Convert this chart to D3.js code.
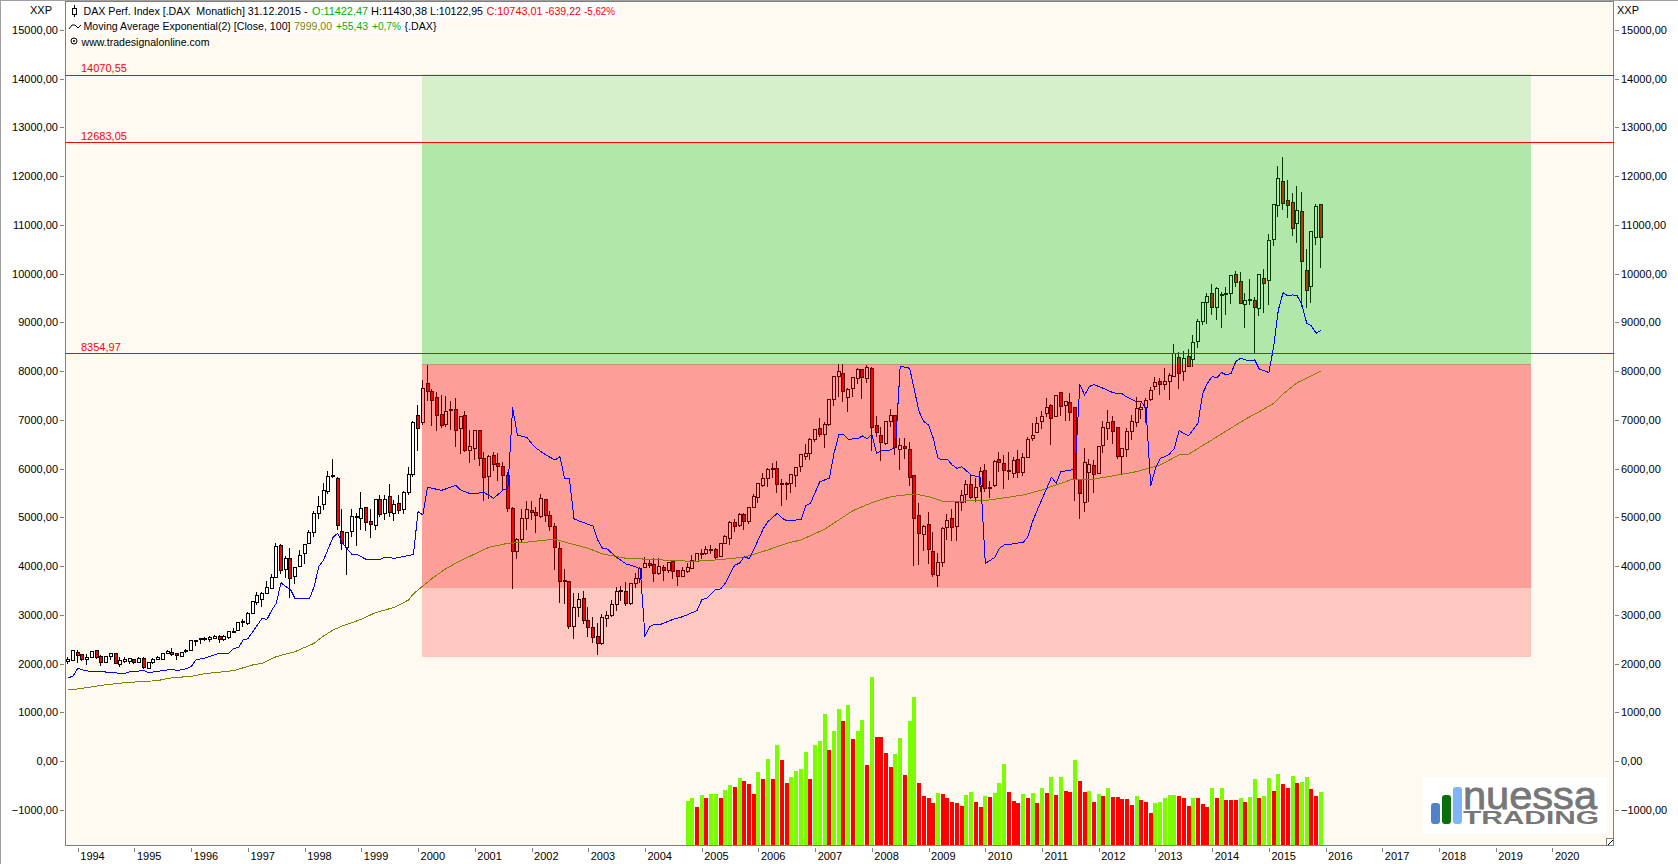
<!DOCTYPE html>
<html>
<head>
<meta charset="utf-8">
<title>DAX Perf. Index</title>
<script src="https://cdn.jsdelivr.net/npm/d3@7"></script>
<style>
html, body { margin: 0; padding: 0; background: #fff; }
svg { display: block; }
text { font-family: "Liberation Sans", Arial, sans-serif; font-size: 11px; fill: #000; }
</style>
</head>
<body>
<script>
// Monthly candles, Nov 1993 to Dec 2015
const candleOpen = [
2040,2060,2230,2182,2073,2121,2258,2134,2018,2141,
2203,1970,2039,2032,2073,2018,2107,1902,2018,2087,
2087,2210,2230,2203,2141,2244,2264,2470,2483,2504,
2483,2517,2558,2483,2538,2640,2675,2846,2812,3030,
3256,3318,3441,3543,3769,4426,3933,4152,3783,3995,
4262,4460,4692,5082,5267,5527,5849,5801,4713,4378,
4706,5000,4973,5206,4918,4836,5370,5076,5431,5076,
5288,5158,5506,5876,7093,6943,7736,7586,7463,7114,
6902,7216,7210,6827,7093,6368,6416,6786,6211,5835,
6273,6108,6047,5855,5185,4296,4549,4980,5144,5103,
5021,5370,5041,4809,4364,3680,3687,2757,3153,3338,
2887,2743,2558,2401,2921,2976,3208,3482,3482,3236,
3632,3749,3967,4056,4022,3844,3974,3906,4084,3899,
3783,3885,3947,4098,4241,4248,4330,4344,4193,4453,
4556,4884,4829,5062,4905,5192,5397,5643,5794,5978,
6006,5684,5684,5684,5855,6039,6245,6306,6601,6813,
6696,6895,7408,7893,7955,7462,7640,7845,8023,7845,
8044,6888,6683,6505,6970,7093,6389,6457,6395,5862,
5041,4645,4857,4303,3803,4070,4788,4980,4809,5301,
5465,5677,5404,5623,5965,5595,5643,6190,6108,5965,
5889,6190,5917,6231,6614,6737,6963,7134,7298,7066,
7565,7298,7360,7257,5780,5308,5917,6067,5903,6471,
6820,6970,6847,6245,6395,6765,6950,7216,7257,7415,
7681,7791,7722,7791,7888,8284,7990,8298,8230,8606,
9016,9406,9598,9303,9550,9584,9591,9988,9844,9365,
9460,9454,9290,9905,9864,10706,11403,11896,11506,11465,
11034,11280,10070,9741,10747,11422];
const candleHigh = [
2130,2275,2278,2196,2196,2255,2278,2175,2155,2210,
2210,2141,2128,2107,2087,2141,2141,2015,2107,2155,
2215,2278,2312,2210,2235,2299,2475,2480,2524,2552,
2565,2579,2579,2579,2675,2730,2850,2914,3051,3277,
3461,3468,3687,3838,4467,4453,4207,4364,3980,4330,
4450,4740,5130,5438,5698,5958,6190,5821,5164,4700,
5164,5082,5513,5219,5164,5377,5465,5459,5684,5356,
5459,5547,6040,6984,7305,7818,8126,7627,7572,7511,
7490,7387,7442,7080,7182,6792,6792,6790,6334,6273,
6334,6314,6143,5937,5206,4570,5164,5342,5342,5219,
5479,5383,5123,4877,4501,3933,3690,3454,3441,3482,
3153,2962,2825,3017,3085,3304,3578,3591,3680,3660,
3851,3988,4193,4138,4159,4159,4022,4090,4125,3920,
3988,4056,4227,4275,4344,4412,4426,4364,4480,4638,
4932,4959,5082,5096,5219,5479,5698,5903,6006,6108,
6150,5780,5732,5875,6040,6293,6498,6621,6820,7032,
6950,7421,7900,8146,8146,7647,7873,8064,8051,8126,
8092,7079,6861,6963,7216,7095,6621,6621,6539,5865,
5287,4836,5103,4699,4261,4809,5068,5164,5322,5561,
5766,5882,5814,6040,6088,5746,6177,6334,6272,6334,
6245,6382,6313,6655,6929,7066,7189,7442,7326,7510,
7579,7394,7545,7271,5785,6416,6190,6177,6464,6977,
7203,7079,6861,6420,6826,7100,7462,7353,7442,7681,
7873,7866,8058,7955,8558,8394,8421,8449,8750,9071,
9413,9598,9789,9728,9632,9728,9974,10056,10035,9611,
9892,9516,9988,10090,10815,11420,12210,12388,11923,11650,
11800,11677,10500,10870,11424,11430];
const candleLow = [
1990,2055,2004,2059,1970,2115,2100,1956,2010,2073,
2000,1936,2004,1991,1991,2004,1881,1895,1991,2073,
2080,2196,2155,2073,2135,2210,2260,2360,2394,2470,
2449,2510,2428,2470,2510,2634,2670,2757,2791,3017,
3208,3167,3427,3537,3755,3838,3762,3352,3632,3974,
4043,4453,4590,4959,5151,5479,5801,4740,4330,3817,
4603,4412,4740,4727,4576,4740,5000,4946,5014,4932,
5062,5062,5459,5821,6368,6895,7394,6874,6779,6840,
6847,6792,6450,6293,6341,6108,6177,6054,5342,5370,
5958,5753,5547,5117,3537,4145,4467,4740,4945,4686,
4993,4911,4727,3920,3249,3222,2716,2510,2962,2812,
2552,2428,2182,2388,2757,2962,3085,3290,3181,3201,
3550,3646,3954,3954,3673,3817,3694,3865,3742,3591,
3769,3865,3933,4084,4138,4227,4248,4138,4180,4450,
4433,4706,4809,4740,4863,5185,5288,5616,5616,5800,
5507,5233,5356,5493,5630,5937,6177,6177,6553,6642,
6430,6874,7292,7476,7360,7168,7462,7736,7428,7763,
6368,6642,6163,6491,6847,6279,5971,6204,5643,4008,
4029,4303,4043,3769,3577,3988,4535,4521,4521,5130,
5287,5383,5308,5527,5527,5404,5629,5937,5588,5766,
5800,5800,5848,6218,6566,6724,6813,7066,6478,7052,
7079,6984,6977,5342,4959,5117,5322,5493,5889,6313,
6587,6505,6204,5889,6231,6587,6847,7011,6943,7394,
7613,7510,7613,7408,7880,7641,7799,8079,8093,8476,
8955,8968,9153,9050,8886,9153,9372,9728,9379,8886,
9358,8366,9139,9201,9358,10569,11171,11308,11150,10774,
10624,9324,9303,9392,10589,10123];
const candleClose = [
2090,2270,2162,2073,2128,2251,2121,2018,2148,2203,
2004,2066,2080,2100,2018,2107,1915,2011,2080,2121,
2210,2244,2189,2169,2230,2264,2470,2476,2504,2511,
2538,2558,2497,2545,2661,2661,2846,2866,3030,3263,
3400,3441,3564,3769,4405,3906,4159,3749,3974,4221,
4446,4692,5082,5226,5554,5842,5862,4829,4467,4692,
5021,5007,5185,4898,4850,5356,5055,5370,5096,5267,
5137,5513,5883,6950,6820,7647,7586,7394,7087,6881,
7175,7189,6786,7073,6368,6444,6786,6211,5821,6252,
6081,6040,5855,5185,4296,4549,4980,5164,5103,5034,
5390,5034,4809,4378,3680,3707,2757,3153,3318,2880,
2736,2538,2401,2948,2976,3215,3482,3489,3236,3646,
3749,3954,4056,4002,3844,3981,3906,4070,3885,3783,
3899,3961,4118,4262,4262,4344,4344,4166,4453,4597,
4891,4809,5048,4918,5192,5424,5684,5800,5972,6006,
5671,5677,5691,5869,6020,6279,6313,6607,6792,6696,
6909,7408,7880,7996,7586,7633,7859,8023,7873,8064,
6840,6744,6539,6956,7093,6423,6478,6416,5821,4973,
4672,4802,4343,3824,4077,4775,4939,4788,5301,5451,
5677,5397,5616,5944,5582,5609,6149,6122,5965,5944,
6156,5917,6231,6601,6683,6915,7073,7257,7032,7504,
7278,7367,7148,5780,5493,6128,6088,5882,6450,6847,
6950,6758,6245,6416,6765,6970,7223,7250,7401,7606,
7770,7722,7791,7914,8353,7956,8264,8093,8592,9023,
9399,9536,9310,9687,9564,9598,9953,9817,9392,9454,
9474,9310,9974,9803,10685,11410,11957,11438,11403,10931,
11301,10254,9659,10856,11383,10743];

// Blue line, read at its corners (bar number, value)
const blueBar = [0,1,2,3,5,7,11,12,13,16,17,19,22,23,25,26,27,29,32,34,35,36,37,38,41,42,43,44,45,46,47,48,51,52,53,54,56,57,58,60,61,63,66,67,69,73,74,75,76,79,82,83,85,88,90,92,93,94,95,97,98,99,101,103,104,105,106,107,109,111,112,113,114,116,118,120,121,122,123,124,125,128,130,133,134,135,137,138,139,141,142,143,144,145,147,148,150,151,152,154,155,156,157,159,161,162,163,164,165,167,168,169,170,171,172,174,175,176,178,179,180,181,182,183,184,185,186,187,188,189,191,193,194,195,196,197,198,199,200,202,203,204,205,207,208,209,210,211,213,214,215,216,217,218,219,221,223,224,226,227,228,229,230,231,232,233,234,235,236,237,239,240,241,242,243,244,245,246,247,248,249,250,251,252,253,254,255,256,257,258,259,260,261,262,263,264,265];
const blueValue = [1710,1738,1902,1868,1833,1833,1799,1799,1833,1854,1813,1840,1881,1854,1895,1936,2073,2114,2210,2210,2312,2326,2483,2510,2928,2900,3085,3236,3660,3578,3523,3324,3324,3578,3988,4125,4590,4672,4467,4241,4241,4138,4138,4180,4159,4234,5117,5048,5616,5554,5657,5561,5486,5506,5390,5561,5595,7257,6683,6642,6519,6416,6280,6177,6245,5800,5800,4966,4891,4822,4535,4364,4350,4180,4043,3988,3940,2565,2757,2805,2791,2907,2962,3085,3304,3338,3523,3530,3646,4022,4056,4193,4152,4330,4761,4911,5082,4980,4932,4945,4945,5240,5287,5732,5800,6313,6690,6703,6601,6614,6669,6614,6710,6313,6361,6382,6450,8105,8058,7613,7168,6963,6895,6621,6211,6177,6190,6074,6006,6040,5869,5821,4056,4111,4179,4364,4432,4432,4467,4480,4603,4911,5150,5595,5821,5698,5937,5951,5985,7729,7510,7681,7729,7681,7647,7558,7531,7463,7374,7374,7237,5643,6006,6211,6245,6300,6416,6779,6724,6676,6930,7546,7751,7888,7867,7970,7922,7956,8195,8264,8230,8209,8230,8038,8011,7970,8503,9256,9611,9543,9563,9543,9358,8982,8927,8777,8838];

// Olive line: Moving Average Exponential, read at its corners
const emaBar = [0,3,7,12,19,21,26,29,35,39,41,44,48,52,54,56,58,62,65,69,72,73,75,77,80,83,86,89,93,96,100,103,106,110,113,118,123,127,132,137,143,148,152,155,160,166,170,174,179,182,185,188,195,202,206,212,216,222,226,231,235,237,249,252,255,257,260,262,265];
const emaValue = [1457,1491,1553,1608,1649,1697,1738,1792,1854,1970,2004,2141,2244,2415,2565,2688,2770,2907,3044,3153,3304,3427,3590,3749,3954,4111,4248,4385,4467,4480,4522,4549,4467,4364,4248,4159,4138,4118,4097,4125,4180,4330,4467,4535,4754,5137,5301,5424,5479,5424,5328,5328,5356,5458,5561,5766,5766,5869,5937,6074,6279,6293,7012,7169,7340,7532,7765,7853,7999];

// Lower histogram, one bar per month from bar 131 to bar 265
const histFirstBar = 131;
const histValue = [
-820,-759,-943,-697,-759,-677,-677,-759,-595,-492,
-533,-348,-410,-471,-677,-225,-369,41,-369,329,
21,-451,-328,-205,-164,185,-369,329,411,965,
226,616,1068,821,1150,452,616,842,-82,1724,
493,493,165,-123,144,472,-287,821,1314,-451,
-718,-759,-861,-656,-677,-759,-841,-861,-923,-697,
-636,-841,-943,-718,-738,-656,-451,-61,-636,
-821,-862,-677,-760,-657,-862,-554,-657,-329,-698,
-329,-616,-636,20,-411,-636,-616,-842,-677,-719,
-554,-739,-739,-780,-780,-903,-719,-801,-842,-1067,
-862,-842,-760,-698,-698,-719,-760,-924,-760,-760,
-883,-944,-554,-760,-554,-801,-801,-801,-760,-842,
-739,-370,-760,-719,-349,-616,-267,-472,-554,-308,
-452,-431,-329,-575,-719,-636];
const histTrend = ('GGRGRGGRGGRGRRRGRGRGRRGGGGRGGGRGGRGRGGRGRRRRGGRGGRRRRGRRRRRGGRRGRGGGR' +
  'RRGRGRGRGRGRRGRRGRGRGRRRRRGRRRGGGGGRRRGRRRGRGRRRGRGGRGGRGRRGRGGRRG').split('');

// Horizontal levels and coloured zones
const levelValue = [14070.55, 12683.05, 8354.97];
const levelLabel = ['14070,55', '12683,05', '8354,97'];
const zoneTop = [14100, 12683, 8136, 3556];
const zoneBottom = [12683, 8120, 3556, 2140];
const zoneColor = ['#00c000', '#00c000', '#ff0000', '#ff0000'];
const zoneAlpha = [0.16, 0.3, 0.37, 0.2];
const zoneFirstBar = 74.8, zoneLastBar = 309.4;

// Axis ticks
const yTicks = d3.range(-1000, 15001, 1000);
const years = d3.range(1994, 2021);
const yearBars = years.map(y => (y - 1994) * 12 + 2); // January of each year

const width = 1678, height = 864;
const frameLeft = 65.5, frameRight = 1613.5, frameTop = 1.5, frameBottom = 845.5;

const svg = d3.select('body').append('svg')
    .attr('width', width)
    .attr('height', height);

const x = d3.scaleLinear().domain([-0.7, 326.8]).range([65, 1613]);
const y = d3.scaleLinear().domain([15000, -1000]).range([30, 809.7]);
const fmt = v => d3.format('.2f')(v).replace('.', ',');

// frame and plot background
svg.append('rect').attr('x', frameLeft).attr('y', frameTop).attr('width', frameRight - frameLeft).attr('height', frameBottom - frameTop)
    .attr('fill', '#fefaf2').attr('stroke', '#808080').attr('shape-rendering', 'crispEdges');
svg.append('line').attr('x1', 0).attr('x2', width).attr('y1', 0.5).attr('y2', 0.5).attr('stroke', '#a0a0a0');
svg.append('line').attr('x1', 0.5).attr('x2', 0.5).attr('y1', 0).attr('y2', height).attr('stroke', '#a0a0a0');

// histogram
const barBase = 845;
svg.append('g').selectAll('rect')
    .data(histValue)
    .join('rect')
    .attr('shape-rendering', 'crispEdges')
    .attr('x', (d, i) => Math.round(x(histFirstBar + i)) - 2)
    .attr('width', 4)
    .attr('y', d => y(d))
    .attr('height', d => barBase - y(d))
    .attr('fill', (d, i) => histTrend[i] === 'G' ? '#7cfc00' : '#ff0000');

// candles
const candles = svg.append('g').attr('shape-rendering', 'crispEdges');
const bars = d3.range(candleOpen.length);
candles.selectAll('line')
    .data(bars)
    .join('line')
    .attr('x1', i => Math.round(x(i)) - 0.5)
    .attr('x2', i => Math.round(x(i)) - 0.5)
    .attr('y1', i => y(candleHigh[i]))
    .attr('y2', i => y(candleLow[i]))
    .attr('stroke', '#000');
candles.selectAll('rect')
    .data(bars)
    .join('rect')
    .attr('x', i => Math.round(x(i)) - 1.5)
    .attr('width', 3)
    .attr('y', i => y(Math.max(candleOpen[i], candleClose[i])))
    .attr('height', i => Math.max(1, Math.abs(y(candleOpen[i]) - y(candleClose[i]))))
    .attr('fill', i => candleClose[i] < candleOpen[i] ? '#ff0000' : '#ffffff')
    .attr('stroke', '#000');

// zones lie over the candles
svg.append('g').selectAll('rect')
    .data(zoneTop)
    .join('rect')
    .attr('shape-rendering', 'crispEdges')
    .attr('x', x(zoneFirstBar))
    .attr('width', x(zoneLastBar) - x(zoneFirstBar))
    .attr('y', d => y(d))
    .attr('height', (d, i) => y(zoneBottom[i]) - y(d))
    .attr('fill', (d, i) => zoneColor[i])
    .attr('fill-opacity', (d, i) => zoneAlpha[i]);

// lines
const line = d3.line().x(d => x(d[0])).y(d => y(d[1]));
svg.append('path')
    .attr('d', line(emaBar.map((b, i) => [b, emaValue[i]])))
    .attr('fill', 'none').attr('stroke', '#808000').attr('stroke-width', 1).attr('shape-rendering', 'crispEdges');
svg.append('path')
    .attr('d', line(blueBar.map((b, i) => [b, blueValue[i]])))
    .attr('fill', 'none').attr('stroke', '#0000ff').attr('stroke-width', 1).attr('shape-rendering', 'crispEdges');

// red levels
svg.append('g').selectAll('line')
    .data(levelValue)
    .join('line')
    .attr('shape-rendering', 'crispEdges')
    .attr('x1', frameLeft).attr('x2', frameRight)
    .attr('y1', d => y(d)).attr('y2', d => y(d))
    .attr('stroke', '#ff0000');
svg.append('g').selectAll('text')
    .data(levelValue)
    .join('text')
    .attr('x', 81)
    .attr('y', d => y(d) - 3)
    .style('fill', '#ff0000')
    .text((d, i) => levelLabel[i]);

// axes
const styleAxis = g => {
    g.select('.domain').remove();
    g.selectAll('.tick line').attr('stroke', '#808080').attr('shape-rendering', 'crispEdges');
    g.selectAll('.tick text').style('font-family', '"Liberation Sans", Arial, sans-serif').style('font-size', '11px').style('fill', '#000');
};
svg.append('g').attr('transform', 'translate(64,0)')
    .call(d3.axisLeft(y).tickValues(yTicks).tickFormat(fmt).tickSize(4).tickPadding(2))
    .call(styleAxis);
svg.append('g').attr('transform', 'translate(1615,0)')
    .call(d3.axisRight(y).tickValues(yTicks).tickFormat(fmt).tickSize(4).tickPadding(2))
    .call(styleAxis);
svg.append('g').attr('transform', 'translate(0,848)')
    .call(d3.axisBottom(x).tickValues(yearBars).tickFormat((d, i) => years[i]).tickSize(4))
    .call(styleAxis)
    .call(g => g.selectAll('.tick text').attr('text-anchor', 'start').attr('x', 2).attr('y', 12).attr('dy', 0));

svg.append('text').attr('x', 30).attr('y', 14).text('XXP');
svg.append('text').attr('x', 1617).attr('y', 14).text('XXP');

// legend
svg.append('rect').attr('x', 67).attr('y', 3).attr('width', 549).attr('height', 15).attr('fill', '#fff');
svg.append('rect').attr('x', 67).attr('y', 18).attr('width', 372).attr('height', 15).attr('fill', '#fff');

const legendRows = [
    { y: 15, parts: [
        [83.5, 'DAX Perf. Index [.DAX\u00a0\u00a0Monatlich] 31.12.2015 -', '#000', 224],
        [312, 'O:11422,47', '#00b000', 56],
        [371, 'H:11430,38', '#000', 56],
        [430, 'L:10122,95', '#000', 53],
        [486.5, 'C:10743,01', '#ff0000', 56],
        [545, '-639,22', '#ff0000', 36],
        [584, '-5,62%', '#ff0000', 31]] },
    { y: 30, parts: [
        [83.5, 'Moving Average Exponential(2) [Close, 100]', '#000', 207],
        [294, '7999,00', '#808000', 38],
        [336, '+55,43', '#00b000', 32],
        [372, '+0,7%', '#00b000', 29],
        [404.5, '{.DAX}', '#000', 32]] },
    { y: 46, parts: [[81.5, 'www.tradesignalonline.com', '#000', 128]] }
];
legendRows.forEach(row => {
    row.parts.forEach(p => {
        svg.append('text').attr('x', p[0]).attr('y', row.y)
            .attr('textLength', p[3]).attr('lengthAdjust', 'spacingAndGlyphs')
            .style('fill', p[2]).text(p[1]);
    });
});
// legend glyphs
const glyphs = svg.append('g').attr('fill', 'none').attr('stroke', '#000').attr('shape-rendering', 'crispEdges');
glyphs.append('line').attr('x1', 74.5).attr('x2', 74.5).attr('y1', 5).attr('y2', 17);
glyphs.append('rect').attr('x', 72.5).attr('y', 8.5).attr('width', 4).attr('height', 6).attr('fill', '#fff');
svg.append('path').attr('d', 'M69 29 L72 25 L75 25 L78 28 L81 25').attr('fill', 'none').attr('stroke', '#000');
svg.append('circle').attr('cx', 74).attr('cy', 41).attr('r', 3).attr('fill', 'none').attr('stroke', '#000');
svg.append('circle').attr('cx', 74).attr('cy', 41).attr('r', 1).attr('fill', '#000');

// logo
const logo = svg.append('g');
logo.append('rect').attr('x', 1423).attr('y', 777).attr('width', 184).attr('height', 57).attr('fill', '#fff');
logo.append('rect').attr('x', 1431).attr('y', 803).attr('width', 9).attr('height', 21).attr('rx', 3).attr('fill', '#4f82c8');
logo.append('rect').attr('x', 1442).attr('y', 795).attr('width', 9).attr('height', 29).attr('rx', 3).attr('fill', '#0a6e0a');
logo.append('rect').attr('x', 1453).attr('y', 787).attr('width', 9).attr('height', 37).attr('rx', 3).attr('fill', '#80b4f8');
logo.append('text').attr('x', 1463).attr('y', 809).attr('textLength', 134).attr('lengthAdjust', 'spacingAndGlyphs')
    .style('font-size', '38px').style('fill', '#777').style('stroke', '#777').style('stroke-width', '0.8px').text('nuessa');
logo.append('text').attr('x', 1463).attr('y', 824).attr('textLength', 136).attr('lengthAdjust', 'spacingAndGlyphs')
    .style('font-size', '18px').style('font-weight', 'bold').style('fill', '#777').text('TRADING');

// resize corner
svg.append('rect').attr('x', 1606.5).attr('y', 838.5).attr('width', 7).attr('height', 7)
    .attr('fill', '#fff').attr('stroke', '#808080').attr('shape-rendering', 'crispEdges');
svg.append('line').attr('x1', 1608).attr('y1', 845).attr('x2', 1613).attr('y2', 840).attr('stroke', '#000');
</script>
</body>
</html>
